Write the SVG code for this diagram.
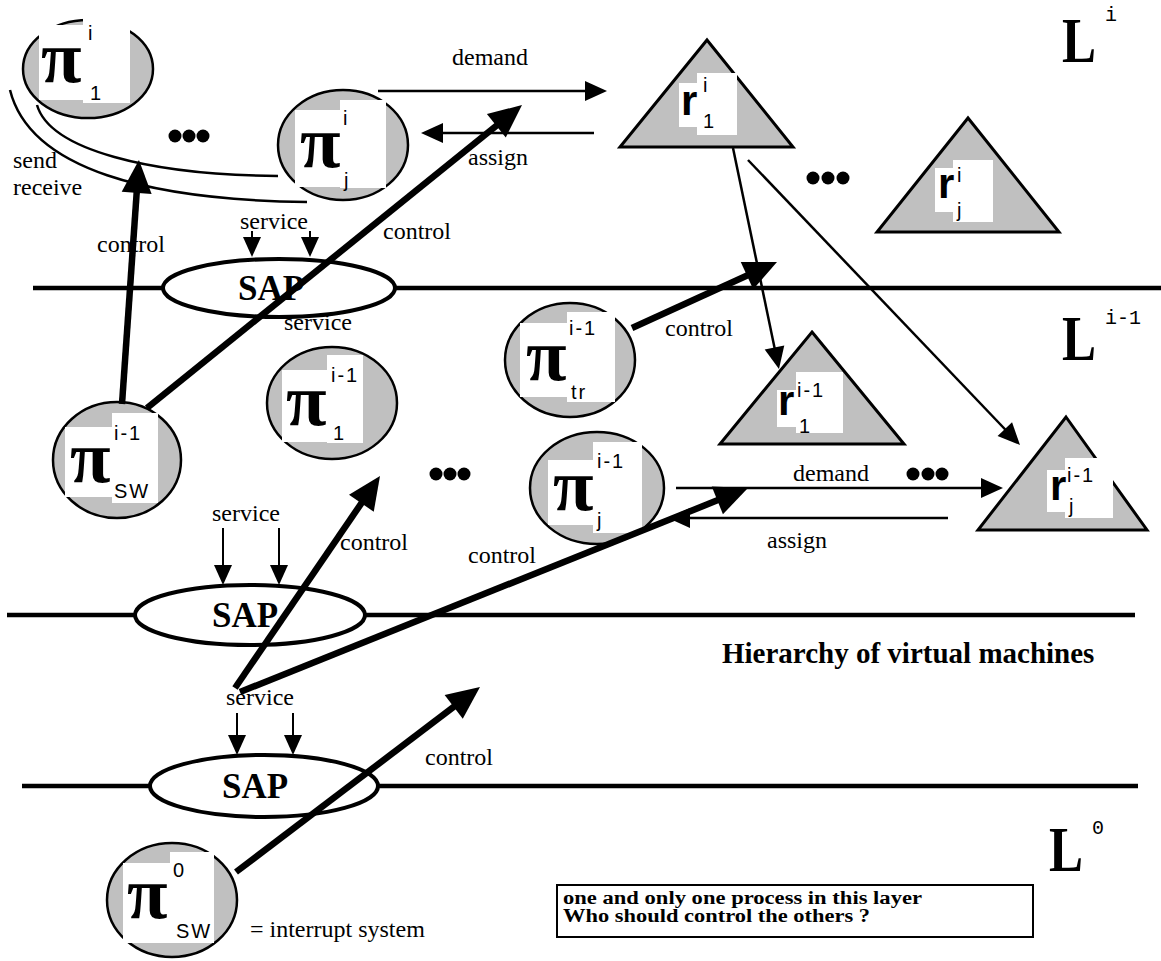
<svg xmlns="http://www.w3.org/2000/svg" width="1161" height="961" viewBox="0 0 1161 961">
  <style>
    .proc ellipse { fill: #c0c0c0; stroke: #000; stroke-width: 2.5; }
    .res polygon { fill: #c0c0c0; stroke: #000; stroke-width: 3; }
    .lab { fill: #fff; stroke: none; }
    .pi { font-family: "Liberation Serif", "Times New Roman", serif; font-weight: bold; font-size: 74px; fill: #000; }
    .rr { font-family: "Liberation Sans", Arial, sans-serif; font-weight: bold; font-size: 42px; fill: #000; }
    .ix { font-family: "Liberation Sans", Arial, sans-serif; font-size: 20px; letter-spacing: 2px; fill: #000; }
    .t { font-family: "Liberation Serif", "Times New Roman", serif; font-size: 24px; fill: #000; }
    .tb { font-family: "Liberation Serif", "Times New Roman", serif; font-weight: bold; fill: #000; }
    .lay { font-family: "Liberation Serif", "Times New Roman", serif; font-weight: bold; font-size: 64px; fill: #000; }
    .lsup { font-family: "Liberation Mono", "Courier New", monospace; font-size: 20px; fill: #000; }
    .layer { stroke: #000; stroke-width: 4.5; fill: none; }
    .sap ellipse { fill: #fff; stroke: #000; stroke-width: 4; }
    .thin { stroke: #000; stroke-width: 2.5; fill: none; }
    .svc { stroke: #000; stroke-width: 2; fill: none; }
    .thick { stroke: #000; stroke-width: 6.5; fill: none; }
    .dot { fill: #000; }
  </style>
  <defs>
    <marker id="hThin" markerUnits="userSpaceOnUse" markerWidth="24" markerHeight="20" refX="2" refY="10" orient="auto" overflow="visible">
      <path d="M0,0 L22,10 L0,20 z" fill="#000"/>
    </marker>
    <marker id="hSvc" markerUnits="userSpaceOnUse" markerWidth="22" markerHeight="18" refX="2" refY="9" orient="auto" overflow="visible">
      <path d="M0,0 L20,9 L0,18 z" fill="#000"/>
    </marker>
    <marker id="hThick" markerUnits="userSpaceOnUse" markerWidth="34" markerHeight="30" refX="2" refY="15" orient="auto" overflow="visible">
      <path d="M0,0 L33,15 L0,30 z" fill="#000"/>
    </marker>
  </defs>

  <rect x="0" y="0" width="1161" height="961" fill="#fff"/>

  <!-- layer boundaries with service access points -->
  <g id="layers">
    <line class="layer" x1="33" y1="288" x2="1161" y2="288"/>
    <line class="layer" x1="7" y1="615" x2="1135" y2="615"/>
    <line class="layer" x1="22" y1="786" x2="1138" y2="786"/>
  </g>
  <g id="sap1" class="sap">
    <ellipse cx="279" cy="288" rx="116" ry="29"/>
    <text class="tb" x="238" y="300" font-size="35">SAP</text>
  </g>
  <g id="sap2" class="sap">
    <ellipse cx="250" cy="615" rx="115" ry="30"/>
    <text class="tb" x="212" y="627" font-size="35">SAP</text>
  </g>
  <g id="sap3" class="sap">
    <ellipse cx="264" cy="786" rx="114" ry="31"/>
    <text class="tb" x="222" y="798" font-size="35">SAP</text>
  </g>

  <!-- layer names -->
  <g id="layer-i">
    <text class="lay" x="1062" y="62" textLength="34" lengthAdjust="spacingAndGlyphs">L</text>
    <text class="lsup" x="1105" y="21">i</text>
  </g>
  <g id="layer-i-1">
    <text class="lay" x="1062" y="360" textLength="34" lengthAdjust="spacingAndGlyphs">L</text>
    <text class="lsup" x="1105" y="324">i-1</text>
  </g>
  <g id="layer-0">
    <text class="lay" x="1049" y="871" textLength="34" lengthAdjust="spacingAndGlyphs">L</text>
    <text class="lsup" x="1092" y="834">0</text>
  </g>

  <!-- processes -->
  <g id="p1-i" class="proc">
    <ellipse cx="88" cy="69" rx="65" ry="49"/>
    <rect class="lab" x="39" y="25" width="45" height="75"/>
    <rect class="lab" x="83" y="15" width="47" height="88"/>
    <text class="pi" x="41" y="82">π</text>
    <text class="ix" x="88" y="40">i</text>
    <text class="ix" x="90" y="100">1</text>
  </g>
  <g id="pj-i" class="proc">
    <ellipse cx="343" cy="145" rx="65" ry="55"/>
    <rect class="lab" x="295" y="110" width="46" height="77"/>
    <rect class="lab" x="340" y="100" width="46" height="88"/>
    <text class="pi" x="300" y="167">π</text>
    <text class="ix" x="343" y="125">i</text>
    <text class="ix" x="344" y="187">j</text>
  </g>
  <g id="psw-i-1" class="proc">
    <ellipse cx="117" cy="460" rx="64" ry="58"/>
    <rect class="lab" x="65" y="427" width="48" height="70"/>
    <rect class="lab" x="112" y="413" width="46" height="90"/>
    <text class="pi" x="70" y="482">π</text>
    <text class="ix" x="114" y="440">i-1</text>
    <text class="ix" x="114" y="498" font-size="17" letter-spacing="0">SW</text>
  </g>
  <g id="p1-i-1" class="proc">
    <ellipse cx="332" cy="403" rx="65" ry="56"/>
    <rect class="lab" x="282" y="370" width="46" height="72"/>
    <rect class="lab" x="327" y="355" width="36" height="88"/>
    <text class="pi" x="286" y="425">π</text>
    <text class="ix" x="331" y="382">i-1</text>
    <text class="ix" x="333" y="440">1</text>
  </g>
  <g id="ptr-i-1" class="proc">
    <ellipse cx="570" cy="360" rx="65" ry="57"/>
    <rect class="lab" x="520" y="323" width="48" height="74"/>
    <rect class="lab" x="567" y="312" width="48" height="90"/>
    <text class="pi" x="526" y="380">π</text>
    <text class="ix" x="569" y="335">i-1</text>
    <text class="ix" x="571" y="399">tr</text>
  </g>
  <g id="pj-i-1" class="proc">
    <ellipse cx="597" cy="488" rx="67" ry="56"/>
    <rect class="lab" x="548" y="460" width="46" height="65"/>
    <rect class="lab" x="593" y="442" width="49" height="91"/>
    <text class="pi" x="553" y="510">π</text>
    <text class="ix" x="597" y="468">i-1</text>
    <text class="ix" x="597" y="527">j</text>
  </g>
  <g id="psw-0" class="proc">
    <ellipse cx="172" cy="900" rx="65" ry="57"/>
    <rect class="lab" x="123" y="863" width="48" height="80"/>
    <rect class="lab" x="170" y="852" width="44" height="91"/>
    <text class="pi" x="127" y="918">π</text>
    <text class="ix" x="173" y="877">0</text>
    <text class="ix" x="176" y="938" font-size="17" letter-spacing="0">SW</text>
  </g>

  <!-- resources -->
  <g id="r1-i" class="res">
    <polygon points="707,40 793,147 620,147"/>
    <rect class="lab" x="679" y="83" width="19" height="44"/>
    <rect class="lab" x="697" y="73" width="40" height="62"/>
    <text class="rr" x="681" y="115">r</text>
    <text class="ix" x="703" y="92">i</text>
    <text class="ix" x="703" y="128">1</text>
  </g>
  <g id="rj-i" class="res">
    <polygon points="968,118 1059,232 877,232"/>
    <rect class="lab" x="935" y="168" width="18" height="44"/>
    <rect class="lab" x="953" y="160" width="40" height="62"/>
    <text class="rr" x="938" y="198">r</text>
    <text class="ix" x="957" y="182">i</text>
    <text class="ix" x="957" y="217">j</text>
  </g>
  <g id="r1-i-1" class="res">
    <polygon points="812,332 904,444 720,444"/>
    <rect class="lab" x="777" y="390" width="19" height="37"/>
    <rect class="lab" x="796" y="372" width="47" height="61"/>
    <text class="rr" x="778" y="415">r</text>
    <text class="ix" x="797" y="397">i-1</text>
    <text class="ix" x="799" y="433">1</text>
  </g>
  <g id="rj-i-1" class="res">
    <polygon points="1066,417 1147,530 978,530"/>
    <rect class="lab" x="1047" y="470" width="18" height="42"/>
    <rect class="lab" x="1065" y="458" width="48" height="60"/>
    <text class="rr" x="1050" y="500">r</text>
    <text class="ix" x="1067" y="482">i-1</text>
    <text class="ix" x="1069" y="513">j</text>
  </g>

  <!-- ellipsis dots -->
  <g id="dots">
    <circle class="dot" cx="175" cy="136" r="6.5"/><circle class="dot" cx="189" cy="136" r="6.5"/><circle class="dot" cx="203" cy="136" r="6.5"/>
    <circle class="dot" cx="813" cy="178" r="6.5"/><circle class="dot" cx="828" cy="178" r="6.5"/><circle class="dot" cx="843" cy="178" r="6.5"/>
    <circle class="dot" cx="436" cy="474" r="6.5"/><circle class="dot" cx="450" cy="474" r="6.5"/><circle class="dot" cx="464" cy="474" r="6.5"/>
    <circle class="dot" cx="913" cy="474" r="6.5"/><circle class="dot" cx="928" cy="474" r="6.5"/><circle class="dot" cx="942" cy="474" r="6.5"/>
  </g>

  <!-- connectors -->
  <g id="connectors">
    <path class="thin" d="M10,90 C30,170 150,200 307,202"/>
    <path class="thin" d="M37,105 C50,150 150,175 278,176"/>
    <line class="thin" x1="378" y1="91" x2="587" y2="91" marker-end="url(#hThin)"/>
    <line class="thin" x1="594" y1="133" x2="441" y2="133" marker-end="url(#hThin)"/>
    <line class="thin" x1="733" y1="148" x2="774.9" y2="349.4" marker-end="url(#hThin)"/>
    <line class="thin" x1="748" y1="160" x2="1006.2" y2="430.5" marker-end="url(#hThin)"/>
    <line class="thin" x1="676" y1="488" x2="983" y2="488" marker-end="url(#hThin)"/>
    <line class="thin" x1="948" y1="518" x2="688" y2="518" marker-end="url(#hThin)"/>

    <line class="svc" x1="252" y1="231" x2="252" y2="239" marker-end="url(#hSvc)"/>
    <line class="svc" x1="310" y1="231" x2="310" y2="239" marker-end="url(#hSvc)"/>
    <line class="svc" x1="223" y1="528" x2="223" y2="567" marker-end="url(#hSvc)"/>
    <line class="svc" x1="279" y1="528" x2="279" y2="567" marker-end="url(#hSvc)"/>
    <line class="svc" x1="237" y1="713" x2="237" y2="737" marker-end="url(#hSvc)"/>
    <line class="svc" x1="293" y1="713" x2="293" y2="737" marker-end="url(#hSvc)"/>

    <line class="thick" stroke-width="5" x1="122" y1="404" x2="136.8" y2="190.9" marker-end="url(#hThick)"/>
    <line class="thick" x1="147" y1="408" x2="497.9" y2="124.5" marker-end="url(#hThick)"/>
    <line class="thick" x1="632" y1="328" x2="748.8" y2="274.8" marker-end="url(#hThick)"/>
    <line class="thick" x1="240" y1="692" x2="719.2" y2="499.6" marker-end="url(#hThick)"/>
    <line class="thick" x1="235" y1="688" x2="362.5" y2="501.6" marker-end="url(#hThick)"/>
    <line class="thick" x1="236" y1="872" x2="455.3" y2="705.7" marker-end="url(#hThick)"/>
  </g>

  <!-- labels -->
  <g id="labels">
    <text class="t" x="452" y="65">demand</text>
    <text class="t" x="468" y="165">assign</text>
    <text class="t" x="13" y="168">send</text>
    <text class="t" x="13" y="195">receive</text>
    <text class="t" x="240" y="229">service</text>
    <text class="t" x="97" y="252">control</text>
    <text class="t" x="383" y="239">control</text>
    <text class="t" x="284" y="330">service</text>
    <text class="t" x="665" y="336">control</text>
    <text class="t" x="793" y="481">demand</text>
    <text class="t" x="767" y="548">assign</text>
    <text class="t" x="212" y="521">service</text>
    <text class="t" x="340" y="550">control</text>
    <text class="t" x="468" y="563">control</text>
    <text class="t" x="226" y="705">service</text>
    <text class="t" x="425" y="765">control</text>
    <text class="t" x="250" y="937" font-size="25">= interrupt system</text>
    <text class="tb" x="722" y="663" font-size="29">Hierarchy of virtual machines</text>
  </g>

  <!-- note box -->
  <g id="note">
    <rect x="557" y="885" width="476" height="52" fill="#fff" stroke="#000" stroke-width="2"/>
    <text class="tb" x="563" y="904" font-size="18" textLength="359" lengthAdjust="spacingAndGlyphs">one and only one process in this layer</text>
    <text class="tb" x="563" y="922" font-size="18" textLength="307" lengthAdjust="spacingAndGlyphs">Who should control the others ?</text>
  </g>
</svg>
